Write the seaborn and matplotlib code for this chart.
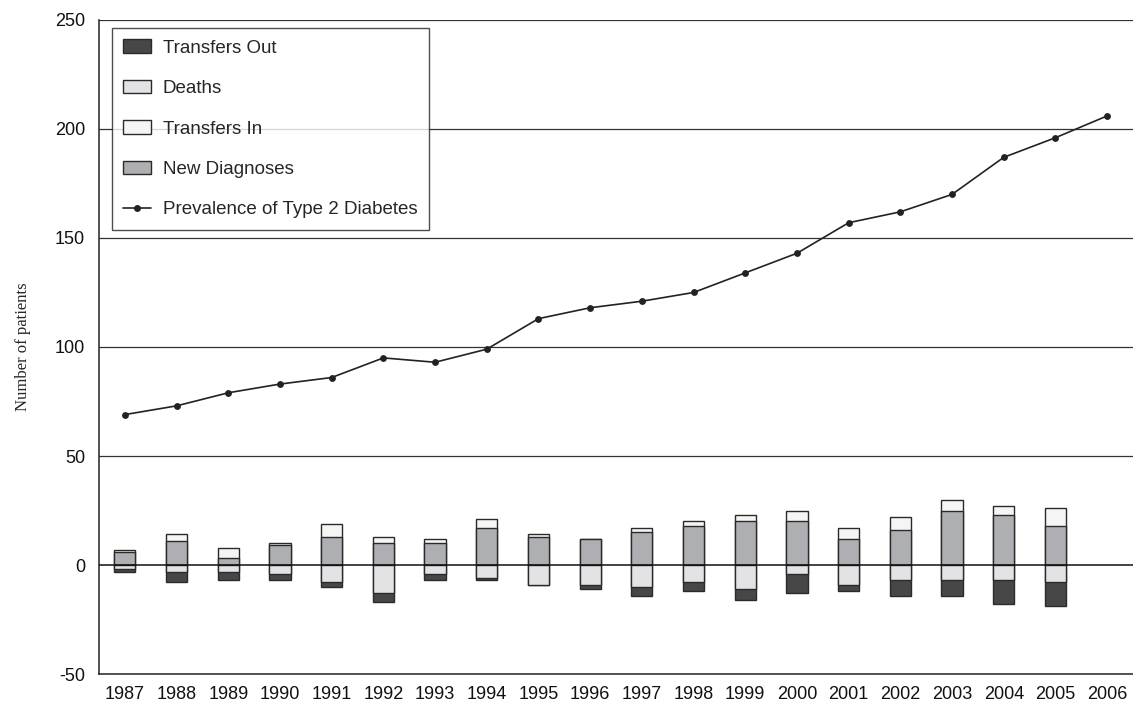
import matplotlib
matplotlib.use("Agg")
import matplotlib.pyplot as plt
import seaborn as sns
import numpy as np
from matplotlib.patches import Patch
from matplotlib.lines import Line2D

# data
years = [str(y) for y in range(1987, 2007)]
bar_years = years[:-1]  # no bars for 2006
new_diagnoses = [6, 11, 3, 9, 13, 10, 10, 17, 13, 12, 15, 18, 20, 20, 12, 16, 25, 23, 18]
transfers_in = [1, 3, 5, 1, 6, 3, 2, 4, 1, 0, 2, 2, 3, 5, 5, 6, 5, 4, 8]
deaths = [2, 3, 3, 4, 8, 13, 4, 6, 9, 9, 10, 8, 11, 4, 9, 7, 7, 7, 8]
transfers_out = [1, 5, 4, 3, 2, 4, 3, 1, 0, 2, 4, 4, 5, 9, 3, 7, 7, 11, 11]
prevalence = [69, 73, 79, 83, 86, 95, 93, 99, 113, 118, 121, 125, 134, 143, 157, 162, 170, 187, 196, 206]

c_out = "#474747"
c_deaths = "#e3e3e5"
c_in = "#f5f5f5"
c_new = "#aeafb2"
c_edge = "#2a2a2a"

sns.set_style("white")
plt.rcParams['font.family'] = ['Liberation Sans', 'DejaVu Sans']
plt.rcParams['axes.unicode_minus'] = False

fig = plt.figure(figsize=(11.33, 7.06), dpi=100)
ax = fig.add_axes([0.0874, 0.0453, 0.9126, 0.9264])

pos_total = np.array(new_diagnoses) + np.array(transfers_in)
neg_total = -(np.array(deaths) + np.array(transfers_out))
neg_deaths = -np.array(deaths)

bar_kw = dict(order=years, width=0.41, saturation=1, errorbar=None,
              edgecolor=c_edge, linewidth=1.0, ax=ax, zorder=3)

# stacked bars drawn by overlapping totals
sns.barplot(x=bar_years, y=pos_total, color=c_in, **bar_kw)
sns.barplot(x=bar_years, y=new_diagnoses, color=c_new, **bar_kw)
sns.barplot(x=bar_years, y=neg_total, color=c_out, **bar_kw)
sns.barplot(x=bar_years, y=neg_deaths, color=c_deaths, **bar_kw)

sns.pointplot(x=years, y=prevalence, order=years, color="#222222", errorbar=None,
              markers="o", markersize=4, linewidth=1.2, ax=ax, zorder=5)

ax.set_ylim(-50, 250)
ax.set_xlim(-0.5, 19.5)
ax.set_yticks([-50, 0, 50, 100, 150, 200, 250])
for v in [50, 100, 150, 200, 250]:
    ax.axhline(v, color="#333333", lw=0.9, zorder=1)
ax.axhline(0, color="#111111", lw=1.1, zorder=4)

ax.set_xticks(range(20))
ax.set_xticklabels(years)
ax.set_xticks(np.arange(-0.5, 20, 1), minor=True)
ax.tick_params(axis="x", which="major", length=0, labelsize=13, pad=8.5, colors="#111111")
ax.tick_params(axis="x", which="minor", length=5, width=1.0, color="#222222", direction="out")
ax.tick_params(axis="y", which="major", length=5, width=1.0, labelsize=13, color="#222222",
               direction="out", labelcolor="#111111", pad=5)

sns.despine(ax=ax, top=True, right=True)
ax.spines["left"].set_color("#222222")
ax.spines["bottom"].set_color("#222222")
ax.spines["left"].set_linewidth(1.1)
ax.spines["bottom"].set_linewidth(1.1)

ax.set_xlabel("")
ax.set_ylabel("Number of patients", family="Liberation Serif", fontsize=12, labelpad=17)

handles = [
    Patch(facecolor=c_out, edgecolor=c_edge, label="Transfers Out"),
    Patch(facecolor=c_deaths, edgecolor=c_edge, label="Deaths"),
    Patch(facecolor=c_in, edgecolor=c_edge, label="Transfers In"),
    Patch(facecolor=c_new, edgecolor=c_edge, label="New Diagnoses"),
    Line2D([0], [0], color="#222222", lw=1.2, marker="o", markersize=4,
           label="Prevalence of Type 2 Diabetes"),
]
leg = ax.legend(handles=handles, loc="upper left", bbox_to_anchor=(0.0126, 0.9878),
                borderaxespad=0, fontsize=13.5, frameon=True, fancybox=False,
                edgecolor="#222222", labelspacing=1.23, handlelength=1.5,
                handleheight=0.75, handletextpad=0.6, borderpad=0.6)
leg.get_frame().set_linewidth(1.0)
leg.set_zorder(10)

fig.savefig("out.png", dpi=100)
